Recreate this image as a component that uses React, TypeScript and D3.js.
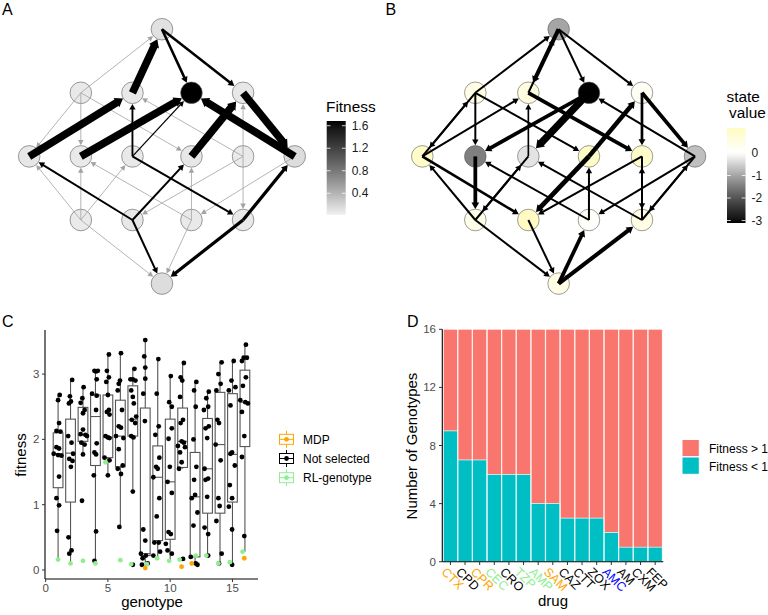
import React from "react";
import * as d3 from "d3";

const FONT = "'Liberation Sans', Arial, Helvetica, sans-serif";

// ---------- Panels A & B: 4-locus genotype network ----------
const nodeIds = ["0000", "1000", "0100", "0010", "0001", "1100", "1010", "0110", "1001", "0101", "0011", "1110", "1101", "1011", "0111", "1111"];
const nodeLevel = [0, 1, 1, 1, 1, 2, 2, 2, 2, 2, 2, 3, 3, 3, 3, 4];
const nodeColumn = [0, -2.75, -1, 1, 2.75, -4.5, -2.75, -1, 1, 2.75, 4.5, -2.75, -1, 1, 2.75, 0];
const fitnessA = [0.12, 0.07, 0.07, 1.684, 0.08, 0.08, 0.07, 0.07, 0.08, 0.06, 0.14, 0.06, 0.08, 0.07, 0.07, 0.14];
const stateB = [-1.0, 0.5, 0.6, -3.1, 0.2, 0.95, -1.45, -0.3, 1.0, 0.9, -0.7, 0.4, 1.05, 0.1, 0.5, 0.5];

// [from, to, transition weight]
const edgesA: [string, string, number][] = [
  ["1000", "0000", 0.03], ["0100", "0000", 1], ["0000", "0010", 0.28], ["0000", "0001", 0.28],
  ["1000", "1100", 0.03], ["1000", "1010", 0.03], ["1000", "1001", 0.03],
  ["1100", "0100", 1], ["0110", "0100", 0.18], ["0101", "0100", 0.03],
  ["1010", "0010", 1], ["0110", "0010", 0.1], ["0011", "0010", 1],
  ["1001", "0001", 1], ["0101", "0001", 0.03], ["0001", "0011", 1],
  ["1110", "1100", 0.03], ["1101", "1100", 0.2], ["1110", "1010", 0.03], ["1011", "1010", 0.03],
  ["1110", "0110", 0.03], ["0110", "0111", 0.2], ["1101", "1001", 0.2], ["1011", "1001", 0.03],
  ["0101", "1101", 0.03], ["0101", "0111", 0.03], ["0011", "1011", 0.03], ["0111", "0011", 0.38],
  ["1110", "1111", 0.03], ["1101", "1111", 0.2], ["1011", "1111", 0.03], ["0111", "1111", 0.38],
];
const edgesB: [string, string, number][] = [
  ["1000", "0000", 0.2], ["0000", "0100", 0.5], ["0100", "0000", 0.2], ["0000", "0010", 0.2], ["0000", "0001", 0.2],
  ["1000", "1100", 0.2], ["1100", "1000", 0.2], ["1000", "1010", 0.2], ["1000", "1001", 0.2],
  ["1100", "0100", 0.2], ["0110", "0100", 0.15], ["0100", "0101", 0.45],
  ["0010", "1010", 0.45], ["0010", "0110", 0.95], ["0011", "0010", 0.2],
  ["1001", "0001", 0.55], ["0001", "0101", 0.3], ["0001", "0011", 0.45],
  ["1110", "1100", 0.2], ["1100", "1101", 0.3], ["1010", "1110", 0.45], ["1011", "1010", 0.2],
  ["0110", "1110", 0.2], ["1110", "0110", 0.2], ["0111", "0110", 0.2],
  ["1001", "1101", 0.6], ["1011", "1001", 0.2], ["0101", "1101", 0.2],
  ["0101", "0111", 0.2], ["0111", "0101", 0.2], ["0011", "1011", 0.2], ["0011", "0111", 0.2], ["0111", "0011", 0.2],
  ["1110", "1111", 0.2], ["1101", "1111", 0.2], ["1111", "1011", 0.45], ["1111", "0111", 0.5],
];
const fitnessTicks = [0.4, 0.8, 1.2, 1.6];
const stateTicks = [0, -1, -2, -3];

// ---------- Panel C: fitness per genotype ----------
// [genotype, lower whisker, q1, median, q3, upper whisker]
const boxStats: number[][] = [
  [1, 0.16, 1.26, 1.78, 2.10, 2.68], [2, 0.10, 1.04, 1.79, 2.31, 2.91], [3, 1.77, 1.97, 2.07, 2.49, 2.80],
  [4, 0.10, 1.60, 2.35, 2.68, 3.05], [5, 1.45, 1.72, 2.03, 2.68, 3.30], [6, 0.66, 1.58, 2.05, 2.60, 3.32],
  [7, 1.20, 2.05, 2.30, 2.82, 3.08], [8, 0.03, 0.22, 0.25, 2.48, 3.52], [9, 0.18, 0.45, 1.42, 1.90, 3.23],
  [10, 0.14, 0.47, 1.35, 2.31, 2.97], [11, 1.55, 1.57, 1.97, 2.48, 3.17], [12, 0.08, 0.20, 1.12, 1.80, 2.88],
  [13, 0.22, 0.87, 1.55, 2.32, 2.73], [14, 0.10, 0.87, 1.92, 2.72, 3.18], [15, 0.08, 1.04, 1.77, 2.70, 3.20],
  [16, 0.28, 1.89, 2.57, 3.06, 3.45],
];
// [genotype, jitter offset, fitness]
const notSelected: number[][] = [
  [1, .13, 2.68], [1, 0, 2.60], [1, .08, 2.25], [1, -.13, 2.13], [1, .19, 2.12], [1, -.13, 1.88], [1, .08, 1.86], [1, -.35, 1.78], [1, 0, 1.76], [1, .27, 1.75], [1, .08, 1.43], [1, -.13, 1.10], [1, .08, 0.99], [1, -.08, 0.60],
  [2, .13, 2.91], [2, -.05, 2.66], [2, .03, 2.58], [2, -.13, 2.55], [2, -.19, 2.05], [2, .08, 1.95], [2, .21, 1.78], [2, -.1, 1.70], [2, .16, 1.67], [2, .03, 1.58], [2, -.16, 0.50], [2, .08, 0.30], [2, -.1, 0.25],
  [3, .05, 2.80], [3, -.05, 2.63], [3, -.19, 2.56], [3, .13, 2.45], [3, 0, 2.40], [3, 0, 2.15], [3, -.19, 2.08], [3, .19, 2.07], [3, .32, 2.05], [3, -.13, 1.95], [3, .13, 1.92], [3, 0, 1.77], [3, -.08, 1.06],
  [4, -.08, 3.05], [4, .19, 3.05], [4, .05, 3.04], [4, .1, 2.92], [4, -.27, 2.70], [4, .1, 2.67], [4, .05, 2.45], [4, .1, 1.94], [4, -.08, 1.80], [4, .05, 1.77], [4, -.13, 1.45], [4, .05, 0.59], [4, -.08, 0.14],
  [5, .08, 3.30], [5, -.08, 3.05], [5, .08, 2.95], [5, -.13, 2.88], [5, 0, 2.68], [5, .08, 2.45], [5, -.08, 2.42], [5, .13, 2.38], [5, -.19, 2.05], [5, 0, 2.03], [5, .13, 2.02], [5, -.27, 1.72], [5, .13, 1.68], [5, 0, 1.45],
  [6, .05, 3.32], [6, -.03, 2.90], [6, -.13, 2.85], [6, -.21, 2.75], [6, .13, 2.45], [6, -.13, 2.20], [6, .05, 2.18], [6, -.35, 2.05], [6, .24, 2.02], [6, -.13, 1.85], [6, .19, 1.60], [6, -.21, 1.55], [6, .05, 1.47], [6, -.08, 0.66],
  [7, .13, 3.08], [7, -.19, 2.92], [7, 0, 2.92], [7, .21, 2.90], [7, -.13, 2.75], [7, 0, 2.65], [7, .08, 2.55], [7, .27, 2.35], [7, -.08, 2.30], [7, .19, 2.25], [7, -.13, 2.05], [7, .05, 2.03], [7, 0, 1.20], [7, 0, 0.08],
  [8, 0, 3.52], [8, -.08, 3.27], [8, 0, 3.10], [8, 0, 2.93], [8, -.16, 2.70], [8, -.03, 2.28], [8, -.16, 0.62], [8, 0, 0.45], [8, -.35, 0.25], [8, .05, 0.22], [8, -.21, 0.18], [8, .19, 0.10], [8, -.27, 0.08],
  [9, .05, 3.23], [9, -.08, 2.70], [9, .08, 2.20], [9, -.19, 2.07], [9, .13, 1.72], [9, -.13, 1.58], [9, 0, 1.55], [9, -.35, 1.42], [9, .13, 1.10], [9, -.08, 0.82], [9, -.27, 0.42], [9, .08, 0.42], [9, .19, 0.28], [9, -.35, 0.22],
  [10, .05, 2.97], [10, -.08, 2.57], [10, .13, 2.50], [10, .13, 2.17], [10, -.13, 2.01], [10, -.03, 1.58], [10, -.21, 1.35], [10, .13, 1.18], [10, -.13, 0.58], [10, .05, 0.55], [10, -.35, 0.40], [10, -.21, 0.30], [10, .13, 0.25],
  [11, .1, 3.17], [11, -.16, 2.95], [11, -.03, 2.90], [11, -.21, 2.65], [11, .03, 2.30], [11, -.16, 2.25], [11, -.08, 1.97], [11, .1, 1.95], [11, -.38, 1.90], [11, .19, 1.88], [11, -.21, 1.80], [11, -.08, 1.65], [11, -.29, 1.55], [11, .03, 0.17],
  [12, .1, 2.88], [12, -.08, 2.75], [12, .05, 2.50], [12, -.13, 2.00], [12, .1, 1.58], [12, -.08, 1.38], [12, 0, 1.15], [12, -.27, 1.10], [12, .19, 0.88], [12, -.13, 0.68], [12, -.35, 0.20], [12, .05, 0.10], [12, .19, 0.08],
  [13, .1, 2.73], [13, -.1, 2.63], [13, .05, 2.50], [13, -.29, 2.45], [13, .1, 2.20], [13, -.16, 2.17], [13, -.03, 2.02], [13, -.24, 1.55], [13, .05, 1.40], [13, -.16, 1.38], [13, -.03, 1.12], [13, -.24, 0.65], [13, .05, 0.55], [13, .05, 0.22],
  [14, .13, 3.18], [14, -.13, 3.00], [14, .05, 2.85], [14, -.29, 2.75], [14, -.21, 2.30], [14, -.08, 2.25], [14, -.35, 1.92], [14, .05, 1.68], [14, -.13, 1.10], [14, -.03, 0.98], [14, -.29, 0.75], [14, .13, 0.25], [14, -.08, 0.10],
  [15, .1, 3.20], [15, -.08, 2.90], [15, .24, 2.80], [15, -.29, 2.75], [15, -.16, 2.52], [15, -.03, 1.80], [15, -.16, 1.78], [15, .19, 1.60], [15, -.21, 1.30], [15, -.03, 1.10], [15, -.29, 0.97], [15, -.03, 0.62], [15, -.03, 0.08],
  [16, .08, 3.45], [16, -.1, 3.25], [16, .16, 3.25], [16, -.24, 3.20], [16, .08, 2.95], [16, -.16, 2.82], [16, -.37, 2.60], [16, .03, 2.57], [16, .24, 2.55], [16, -.24, 2.42], [16, -.05, 2.05], [16, -.24, 1.73], [16, -.05, 0.52],
];
const rlGenotype: number[][] = [
  [1, 0, 0.16], [2, 0, 0.10], [3, 0, 0.14], [4, 0, 0.10], [5, -.19, 1.65], [6, 0, 0.15], [7, -.13, 0.09], [8, .13, 0.09],
  [9, -.05, 0.18], [10, -.08, 0.14], [11, -.24, 0.16], [12, .05, 0.22], [13, -.1, 0.22], [14, -.13, 0.10], [15, -.21, 0.12], [16, -.19, 0.28],
];
const mdpPoints: number[][] = [[8, 0, 0.03], [11, -.08, 0.05], [12, -.27, 0.10], [16, -.05, 0.18]];
const cTicksX = [0, 5, 10, 15];
const cTicksY = [0, 1, 2, 3];
const cLegendLabels = ["MDP", "Not selected", "RL-genotype"];
const cLegendColors = ["#FFA500", "#000000", "#90EE90"];

// ---------- Panel D: genotypes per drug ----------
const drugs = ["CTX", "CPD", "CPR", "CEC", "CRO", "TZP", "AMP", "SAM", "CAZ", "CTT", "ZOX", "AMC", "AM", "CXM", "FEP"];
const below1 = [9, 7, 7, 6, 6, 6, 4, 4, 3, 3, 3, 2, 1, 1, 1];
const totalGenotypes = 16;
const drugColors = ["#FFA500", "#000000", "#FFA500", "#90EE90", "#000000", "#90EE90", "#90EE90", "#FFA500", "#000000", "#000000", "#000000", "#0000FF", "#000000", "#000000", "#000000"];
const dTicksY = [0, 4, 8, 12, 16];
const dLegend = ["Fitness > 1", "Fitness < 1"];
const dColors = ["#F8766D", "#00BFC4"];

// ---------- helpers ----------
const levelY = d3.scaleLinear().domain([0, 4]).range([29.2, 283.6]);
const edgeWidth = d3.scaleLinear().domain([0, 1]).range([0.6, 7.6]);
const R = 10.8;

function Network({ x0, x1, values, fill, edges, greyBelow }: any) {
  const xs = d3.scaleLinear().domain([-4.5, 4.5]).range([x0, x1]);
  const pos: Record<string, { x: number; y: number }> = {};
  nodeIds.forEach((id, i) => { pos[id] = { x: xs(nodeColumn[i]), y: levelY(nodeLevel[i]) }; });
  const sorted = [...edges].sort((a: any, b: any) => a[2] - b[2]);
  return (
    <g>
      {nodeIds.map((id, i) => (
        <circle key={id} cx={pos[id].x} cy={pos[id].y} r={R} fill={fill(values[i])} stroke="#5a5a5a" strokeWidth={0.6} />
      ))}
      {sorted.map(([from, to, w]: any, i: number) => {
        const s = pos[from], t = pos[to];
        const width = edgeWidth(w);
        const color = w < greyBelow ? "#a3a3a3" : "#000";
        const dx = t.x - s.x, dy = t.y - s.y, L = Math.hypot(dx, dy);
        const ux = dx / L, uy = dy / L;
        const tipX = t.x - ux * (R + 0.3), tipY = t.y - uy * (R + 0.3);
        const hl = 5 + width * 0.35, hw = 2.4 + width * 0.4;
        const bx = tipX - ux * hl, by = tipY - uy * hl;
        const px = -uy, py = ux;
        return (
          <g key={i}>
            <line x1={s.x} y1={s.y} x2={bx + ux * 0.8} y2={by + uy * 0.8} stroke={color} strokeWidth={width} />
            <polygon points={`${tipX},${tipY} ${bx + px * hw},${by + py * hw} ${bx - px * hw},${by - py * hw}`} fill={color} />
          </g>
        );
      })}
    </g>
  );
}

function ColorBar({ id, x, y0, y1, w, domain, color, ticks, fmt }: any) {
  const sc = d3.scaleLinear().domain(domain).range([y1, y0]);
  const stops = d3.range(0, 1.0001, 0.05).map((f) => domain[1] - f * (domain[1] - domain[0]));
  return (
    <g>
      <defs>
        <linearGradient id={id} x1="0" y1="0" x2="0" y2="1">
          {stops.map((v, i) => <stop key={i} offset={`${i * 5}%`} stopColor={color(v)} />)}
        </linearGradient>
      </defs>
      <rect x={x} y={y0} width={w} height={y1 - y0} fill={`url(#${id})`} />
      {ticks.map((t: number) => (
        <g key={t}>
          <line x1={x} x2={x + 3.8} y1={sc(t)} y2={sc(t)} stroke="#fff" strokeWidth={0.8} />
          <line x1={x + w - 3.8} x2={x + w} y1={sc(t)} y2={sc(t)} stroke="#fff" strokeWidth={0.8} />
          <text x={x + w + 6} y={sc(t) + 4.2} fontSize={12} fill="#1a1a1a">{fmt(t)}</text>
        </g>
      ))}
    </g>
  );
}

export default function App() {
  const fillA = d3.scaleLinear<string>().domain([0.014, 1.684]).range(["#f2f2f2", "#000000"]).interpolate(d3.interpolateLab);
  const fillB = d3.scaleLinear<string>().domain([-3.11, 0, 1.11]).range(["#000000", "#ffffff", "#fffbc0"]).interpolate(d3.interpolateLab);

  // Panel C scales
  const xC = d3.scaleLinear().domain([-0.05, 17.05]).range([45, 258]);
  const yC = d3.scaleLinear().domain([-0.138, 3.675]).range([579, 330]);
  const halfBox = 0.39;

  // Panel D scales
  const xD = d3.scaleBand<string>().domain(drugs).range([442.3, 663.3]).paddingInner(0.05).paddingOuter(0.08);
  const yD = d3.scaleLinear().domain([0, totalGenotypes]).range([561.7, 329.3]);

  return (
    <svg width={768} height={615} style={{ display: "block", position: "absolute", left: 0, top: 0 }} fontFamily={FONT}>
      <rect width={768} height={615} fill="#fff" />
      {/* Panel letters */}
      <text x={2} y={15} fontSize={16}>A</text>
      <text x={385.5} y={15} fontSize={16}>B</text>
      <text x={2} y={326.7} fontSize={16}>C</text>
      <text x={407} y={326.7} fontSize={16}>D</text>

      {/* Panel A */}
      <Network x0={29.2} x1={294.7} values={fitnessA} fill={fillA} edges={edgesA} greyBelow={0.08} />
      <text x={326} y={111.7} fontSize={15.4}>Fitness</text>
      <ColorBar id="gA" x={326.7} y0={121} y1={215} w={19} domain={[0.014, 1.684]} color={fillA} ticks={fitnessTicks} fmt={(t: number) => t.toFixed(1)} />

      {/* Panel B */}
      <Network x0={422.3} x1={695} values={stateB} fill={fillB} edges={edgesB} greyBelow={0} />
      <text x={726.5} y={101.7} fontSize={15.4}>state</text>
      <text x={729} y={118} fontSize={15.4}>value</text>
      <ColorBar id="gB" x={727} y0={128} y1={223} w={18.5} domain={[-3.11, 1.11]} color={fillB} ticks={stateTicks} fmt={(t: number) => `${t}`} />

      {/* Panel C */}
      <g>
        {boxStats.map(([g, lo, q1, med, q3, hi]) => (
          <g key={g} stroke="#555" strokeWidth={1.1} fill="none">
            <line x1={xC(g)} x2={xC(g)} y1={yC(hi)} y2={yC(q3)} />
            <line x1={xC(g)} x2={xC(g)} y1={yC(q1)} y2={yC(lo)} />
            <rect x={xC(g - halfBox)} y={yC(q3)} width={xC(g + halfBox) - xC(g - halfBox)} height={yC(q1) - yC(q3)} />
            <line x1={xC(g - halfBox)} x2={xC(g + halfBox)} y1={yC(med)} y2={yC(med)} />
          </g>
        ))}
        {notSelected.map(([g, dx, v], i) => <circle key={"n" + i} cx={xC(g + dx)} cy={yC(v)} r={2.4} fill="#000" />)}
        {rlGenotype.map(([g, dx, v], i) => <circle key={"r" + i} cx={xC(g + dx)} cy={yC(v)} r={2.4} fill="#90EE90" />)}
        {mdpPoints.map(([g, dx, v], i) => <circle key={"m" + i} cx={xC(g + dx)} cy={yC(v)} r={2.4} fill="#FFA500" />)}
        <line x1={45} x2={45} y1={330} y2={579} stroke="#000" strokeWidth={1.1} />
        <line x1={45} x2={258} y1={579} y2={579} stroke="#000" strokeWidth={1.1} />
        {cTicksY.map((t) => (
          <g key={t}>
            <line x1={42} x2={45} y1={yC(t)} y2={yC(t)} stroke="#333" />
            <text x={39.5} y={yC(t) + 4} fontSize={11.5} textAnchor="end" fill="#4d4d4d">{t}</text>
          </g>
        ))}
        {cTicksX.map((t) => (
          <g key={t}>
            <line x1={xC(t)} x2={xC(t)} y1={579} y2={582} stroke="#333" />
            <text x={xC(t)} y={591.5} fontSize={11.5} textAnchor="middle" fill="#4d4d4d">{t}</text>
          </g>
        ))}
        <text transform="translate(26,455) rotate(-90)" fontSize={15} textAnchor="middle">fitness</text>
        <text x={152} y={607} fontSize={15} textAnchor="middle">genotype</text>
        {cLegendLabels.map((lab, i) => {
          const cy = 439.3 + i * 19.2;
          const c = cLegendColors[i];
          return (
            <g key={lab}>
              <line x1={286.5} x2={286.5} y1={cy - 8.5} y2={cy - 5} stroke={c} strokeWidth={1} />
              <line x1={286.5} x2={286.5} y1={cy + 5} y2={cy + 8.5} stroke={c} strokeWidth={1} />
              <rect x={279.5} y={cy - 5} width={14} height={10} fill="#fff" stroke={c} strokeWidth={1} />
              <line x1={279.5} x2={293.5} y1={cy} y2={cy} stroke={c} strokeWidth={1} />
              <circle cx={286.5} cy={cy} r={2.4} fill={c} />
              <text x={303} y={cy + 4.3} fontSize={12}>{lab}</text>
            </g>
          );
        })}
      </g>

      {/* Panel D */}
      <g>
        {drugs.map((d, i) => (
          <g key={d}>
            <rect x={xD(d)} y={yD(totalGenotypes)} width={xD.bandwidth()} height={yD(below1[i]) - yD(totalGenotypes)} fill={dColors[0]} stroke="#fff" strokeWidth={0.5} />
            <rect x={xD(d)} y={yD(below1[i])} width={xD.bandwidth()} height={yD(0) - yD(below1[i])} fill={dColors[1]} stroke="#fff" strokeWidth={0.5} />
          </g>
        ))}
        <line x1={442.3} x2={442.3} y1={329.3} y2={561.7} stroke="#000" strokeWidth={1.1} />
        <line x1={442.3} x2={663.3} y1={561.7} y2={561.7} stroke="#000" strokeWidth={1.1} />
        {dTicksY.map((t) => (
          <g key={t}>
            <line x1={439} x2={442.3} y1={yD(t)} y2={yD(t)} stroke="#333" />
            <text x={436} y={yD(t) + 4} fontSize={11.5} textAnchor="end" fill="#4d4d4d">{t}</text>
          </g>
        ))}
        {drugs.map((d, i) => {
          const cx = (xD(d) as number) + xD.bandwidth() / 2;
          return (
            <g key={d}>
              <line x1={cx} x2={cx} y1={561.7} y2={565} stroke="#333" />
              <text transform={`translate(${cx - 3.5},${566.5}) rotate(45)`} fontSize={12.5} fill={drugColors[i]} dy="0.7em">{d}</text>
            </g>
          );
        })}
        <text transform="translate(417,446) rotate(-90)" fontSize={15} textAnchor="middle">Number of Genotypes</text>
        <text x={553} y={606} fontSize={15} textAnchor="middle">drug</text>
        {dLegend.map((lab, i) => (
          <g key={lab}>
            <rect x={682} y={439.5 + i * 17.5} width={17.3} height={17.3} fill={dColors[i]} stroke="#fff" strokeWidth={1} />
            <text x={709} y={452.5 + i * 18.5} fontSize={12}>{lab}</text>
          </g>
        ))}
      </g>
    </svg>
  );
}
